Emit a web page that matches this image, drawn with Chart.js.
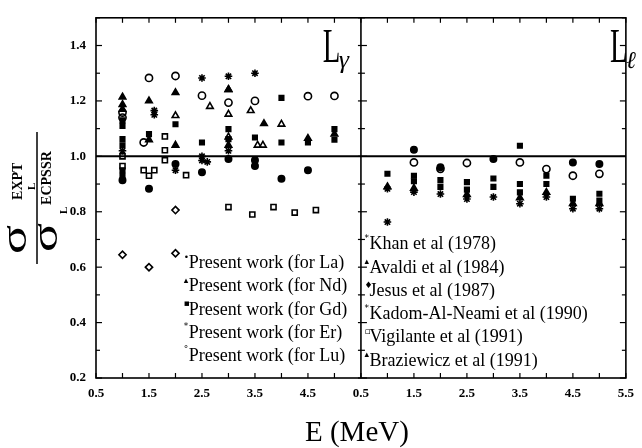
<!DOCTYPE html>
<html lang="en">
<head>
<meta charset="UTF-8">
<title>L x-ray production cross sections / ECPSSR</title>
<style>
  html, body { margin: 0; padding: 0; background: #fff; }
  #wrap { width: 642px; height: 448px; }
</style>
</head>
<body>
<div id="wrap"><canvas id="myChart"></canvas></div>
<script src="https://cdn.jsdelivr.net/npm/chart.js"></script>
<script>
// both panels share one x axis; the L_l panel sits 5 MeV to the right
const PANEL_SHIFT = 5;

// ---- L gamma panel, [E (MeV), sigma_expt / sigma_ecpssr]
const lgFilledSquare = [[1.0,1.13],[1.0,1.11],[1.0,1.062],[1.0,1.04],[1.0,0.95],[1.0,0.93],[1.5,1.08],[2.0,1.116],[2.5,1.05],[3.0,1.098],[3.0,1.062],[3.5,1.068],[4.0,1.211],[4.0,1.05],[4.5,1.05],[5.0,1.098],[5.0,1.06]];
const lgFilledTri = [[1.0,1.214],[1.0,1.187],[1.0,1.17],[1.5,1.2],[1.5,1.06],[2.0,1.23],[2.0,1.04],[3.0,1.241],[3.0,1.04],[3.67,1.118],[4.5,1.065],[5.0,1.08]];
const lgStar = [[1.0,1.02],[1.6,1.165],[1.6,1.15],[2.0,0.95],[2.5,1.283],[2.5,1.0],[2.6,0.98],[2.5,0.985],[3.0,1.289],[3.0,1.02],[3.5,1.30]];
const lgOpenCircle = [[1.0,1.158],[1.0,1.14],[1.5,1.283],[1.4,1.05],[2.0,1.29],[2.5,1.219],[3.0,1.194],[3.5,1.20],[4.5,1.217],[5.0,1.218]];
const lgOpenTri = [[2.0,1.147],[2.65,1.18],[3.0,1.241],[3.0,1.152],[3.0,1.07],[3.42,1.165],[3.55,1.04],[3.65,1.04],[4.0,1.116]];
const lgOpenSquare = [[1.0,1.0],[1.0,0.965],[1.4,0.95],[1.5,0.93],[1.6,0.95],[1.8,1.072],[1.8,1.022],[1.8,0.986],[2.2,0.932],[3.0,0.817],[3.45,0.79],[3.85,0.817],[4.25,0.797],[4.65,0.806]];
const lgOpenDiamond = [[1.0,0.645],[1.5,0.60],[2.0,0.65],[2.0,0.806]];
const lgFilledCircle = [[1.0,0.914],[1.5,0.883],[2.0,0.972],[2.5,0.943],[3.0,0.99],[3.5,0.986],[3.5,0.965],[4.0,0.919],[4.5,0.95]];

// ---- L l panel
const llFilledSquare = [[1.0,0.937],[1.5,0.93],[1.5,0.91],[2.0,0.914],[2.0,0.89],[2.5,0.907],[2.5,0.88],[3.0,0.92],[3.0,0.89],[3.5,1.038],[3.5,0.9],[3.5,0.87],[4.0,0.93],[4.0,0.9],[4.5,0.847],[5.0,0.865],[5.0,0.84]];
const llFilledCircle = [[1.5,1.024],[2.0,0.961],[3.0,0.99],[4.5,0.978],[5.0,0.972]];
const llOpenCircle = [[1.5,0.978],[2.0,0.955],[2.5,0.976],[3.5,0.978],[4.0,0.954],[4.5,0.93],[5.0,0.937]];
const llStar = [[1.0,0.763],[1.0,0.883],[1.5,0.871],[2.0,0.864],[2.5,0.846],[3.0,0.853],[3.5,0.829],[4.0,0.853],[4.5,0.811],[5.0,0.811]];
const llFilledTri = [[1.0,0.89],[1.5,0.885],[2.5,0.862],[3.5,0.85],[4.0,0.87],[4.5,0.83],[5.0,0.83]];

const presentWork = ['La', 'Nd', 'Gd', 'Er', 'Lu'];
const presentSyms = ['\u2022', '\u25B4', '\u25AA', '*', '\u00B0'];
const references = ['Khan et al (1978)', 'Avaldi et al (1984)', 'Jesus et al (1987)',
                    'Kadom-Al-Neami et al (1990)', 'Vigilante et al (1991)', 'Braziewicz et al (1991)'];
const referenceSyms = ['*', '\u25B4', '\u2666', '*', '\u25AB', '\u25B4'];

const SERIF = "'Liberation Serif', 'DejaVu Serif', serif";

function set(list, shift, style, filled, radius) {
  return {
    data: list.map(([e, r]) => ({ x: e + shift, y: r })),
    pointStyle: style,
    pointRadius: radius,
    pointBorderColor: '#000',
    pointBackgroundColor: filled ? '#000' : 'rgba(0,0,0,0)',
    pointBorderWidth: 1.6,
    showLine: false
  };
}

// frame, divider, 1.0 line, inward ticks, and all the text drawn on the canvas
const decor = {
  id: 'decor',
  afterDraw(chart) {
    const { ctx, chartArea: a, scales: { x, y } } = chart;
    const line = (x1, y1, x2, y2) => { ctx.beginPath(); ctx.moveTo(x1, y1); ctx.lineTo(x2, y2); ctx.stroke(); };
    ctx.save();
    ctx.strokeStyle = '#000';
    ctx.fillStyle = '#000';
    ctx.lineWidth = 1.6;
    ctx.strokeRect(a.left, a.top, a.right - a.left, a.bottom - a.top);
    const xd = x.getPixelForValue(5.5);
    line(xd, a.top, xd, a.bottom);
    ctx.lineWidth = 2;
    const y1 = y.getPixelForValue(1.0);
    line(a.left, y1, a.right, y1);

    ctx.lineWidth = 1.2;
    x.ticks.forEach(t => {
      const px = x.getPixelForValue(t.value);
      line(px, a.top, px, a.top + 5);
      line(px, a.bottom, px, a.bottom - 5);
    });
    y.ticks.forEach(t => {
      const py = y.getPixelForValue(t.value);
      const len = Math.round(t.value * 10) % 2 === 0 ? 6 : 4;
      line(a.left, py, a.left + len, py);
      line(a.right, py, a.right - len, py);
      line(xd - 3, py, xd + len, py);
    });

    // panel labels
    const panelLabel = (xv, sub, subFont) => {
      ctx.save();
      ctx.translate(x.getPixelForValue(xv), y.getPixelForValue(1.34));
      ctx.scale(0.6, 1);
      ctx.font = '48px ' + SERIF;
      ctx.textBaseline = 'alphabetic';
      ctx.fillText('L', 0, 0);
      ctx.restore();
      ctx.font = subFont;
      ctx.fillText(sub, x.getPixelForValue(xv) + 16, y.getPixelForValue(1.34) + 6);
    };
    panelLabel(4.78, '\u03B3', 'italic 26px ' + SERIF);
    panelLabel(10.2, '\u2113', 'italic 24px ' + SERIF);

    // in-plot legend blocks
    ctx.textBaseline = 'middle';
    ctx.textAlign = 'left';
    presentWork.forEach((el, i) => {
      const px = x.getPixelForValue(2.25), py = y.getPixelForValue(0.613 - i * 0.0835);
      ctx.font = '9px "DejaVu Sans"';
      ctx.fillText(presentSyms[i], px - 5, py - 6);
      ctx.font = '18px ' + SERIF;
      ctx.fillText('Present work (for ' + el + ')', px, py, 162);
    });
    references.forEach((txt, i) => {
      const px = x.getPixelForValue(5.66), py = y.getPixelForValue(0.681 - i * 0.0838);
      ctx.font = '9px "DejaVu Sans"';
      ctx.fillText(referenceSyms[i], px - 5, py - 6);
      ctx.font = '18px ' + SERIF;
      ctx.fillText(txt, px, py);
    });

    // x axis title
    ctx.textAlign = 'center';
    ctx.textBaseline = 'middle';
    ctx.font = '29px ' + SERIF;
    ctx.fillText('E (MeV)', (a.left + a.right) / 2 - 4, a.bottom + 55);

    // y axis title: sigma_L^EXPT / sigma_L^ECPSSR, rotated
    ctx.save();
    ctx.translate(a.left - 59, (a.top + a.bottom) / 2);
    ctx.rotate(-Math.PI / 2);
    ctx.textAlign = 'left';
    ctx.textBaseline = 'alphabetic';
    ctx.lineWidth = 1.5;
    line(-66, 0, 66, 0);
    const sigma = (x0, base) => {
      ctx.save();
      ctx.translate(x0, base);
      ctx.scale(1.5, 1);
      ctx.font = '36px ' + SERIF;
      ctx.fillText('\u03C3', 0, 0);
      ctx.restore();
    };
    sigma(-56, -11);
    sigma(-54, 20);
    ctx.font = 'bold 14px ' + SERIF;
    ctx.fillText('EXPT', -2, -15, 50);
    ctx.fillText('ECPSSR', -7, 14, 73);
    ctx.font = 'bold 11px ' + SERIF;
    ctx.fillText('L', 8, -2);
    ctx.fillText('L', -16, 30);
    ctx.restore();
    ctx.restore();
  }
};

const tickFont = { family: SERIF, size: 13, weight: 'bold' };

new Chart(document.getElementById('myChart').getContext('2d'), {
  type: 'scatter',
  data: {
    datasets: [
      set(lgFilledSquare, 0, 'rect', true, 3.2),
      set(lgFilledTri, 0, 'triangle', true, 3.8),
      set(lgStar, 0, 'star', false, 3.8),
      set(lgOpenCircle, 0, 'circle', false, 3.6),
      set(lgOpenTri, 0, 'triangle', false, 3.8),
      set(lgOpenSquare, 0, 'rect', false, 3.6),
      set(lgOpenDiamond, 0, 'rectRot', false, 3.6),
      set(lgFilledCircle, 0, 'circle', true, 3.2),
      set(llFilledSquare, PANEL_SHIFT, 'rect', true, 3.2),
      set(llFilledCircle, PANEL_SHIFT, 'circle', true, 3.2),
      set(llOpenCircle, PANEL_SHIFT, 'circle', false, 3.6),
      set(llStar, PANEL_SHIFT, 'star', false, 3.8),
      set(llFilledTri, PANEL_SHIFT, 'triangle', true, 3.8)
    ]
  },
  options: {
    responsive: true,
    maintainAspectRatio: false,
    animation: false,
    layout: { padding: { top: 13, right: 6, left: 0, bottom: 0 } },
    plugins: { legend: { display: false }, tooltip: { enabled: false } },
    scales: {
      x: {
        type: 'linear',
        min: 0.5,
        max: 10.5,
        afterFit: s => { s.height = 70; },
        grid: { display: false, drawTicks: false },
        border: { display: false },
        ticks: {
          stepSize: 0.5,
          autoSkip: false,
          maxRotation: 0,
          padding: 8,
          color: '#000',
          font: tickFont,
          callback: v => {
            const h = Math.round(v * 2);
            if (h % 2 === 0) return '';
            const e = v < 5.4 ? v : v - PANEL_SHIFT;
            return e.toFixed(1);
          }
        }
      },
      y: {
        min: 0.2,
        max: 1.5,
        afterFit: s => { s.width = 96; },
        grid: { display: false, drawTicks: false },
        border: { display: false },
        ticks: {
          stepSize: 0.1,
          autoSkip: false,
          padding: 10,
          color: '#000',
          font: tickFont,
          callback: v => {
            const n = Math.round(v * 10);
            return (n % 2 === 0 && n <= 14) ? (n / 10).toFixed(1) : '';
          }
        }
      }
    }
  },
  plugins: [decor]
});
</script>
</body>
</html>
